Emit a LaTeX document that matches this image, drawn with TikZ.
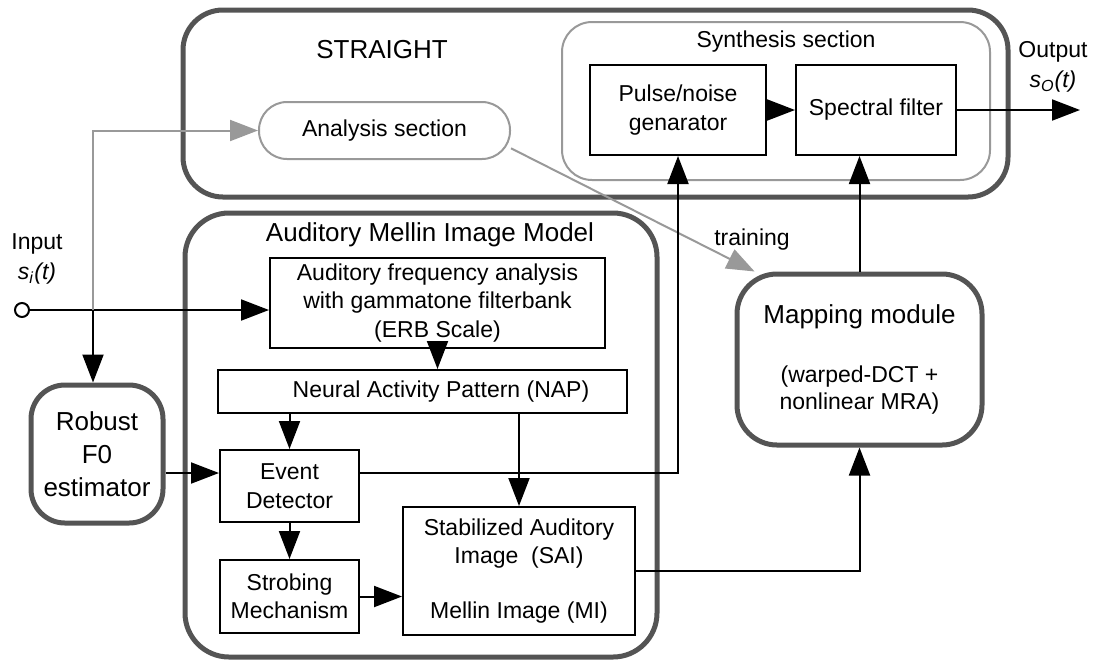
\documentclass[tikz,border=0pt]{standalone}
\usepackage{fontspec}
\setmainfont{Liberation Sans}
\usetikzlibrary{arrows.meta}

\tikzset{
  sz/.style 2 args={minimum width=#1,minimum height=#2},
  blk/.style={draw,line width=1pt,align=center,inner sep=0pt,font=\fontsize{11.5}{14.2}\selectfont},
  grp/.style={draw=black!67,line width=2.5pt,rounded corners=#1,inner sep=0pt},
  thin grp/.style={draw=black!40,line width=1pt,rounded corners=#1,inner sep=0pt},
  txt/.style={align=center,inner sep=0pt,font=\fontsize{11.5}{15}\selectfont},
  big/.style={align=center,inner sep=0pt,font=\fontsize{13}{16.3}\selectfont},
  arr/.style={line width=1pt,-{Triangle[length=14pt,width=10.5pt]}},
  garr/.style={draw=black!40,line width=1pt,-{Triangle[length=14pt,width=10.5pt]}},
}

\begin{document}
\begin{tikzpicture}[x=0.5pt,y=-0.5pt]
  \useasboundingbox (0,0) rectangle (1095,660);

  % STRAIGHT
  \node[grp=20pt,sz={412.5pt}{93.5pt}] (straight) at (595.5,103.5) {};
  \node[big] (straightlbl) at (382,50) {STRAIGHT};
  \node[thin grp=15pt,sz={214pt}{79pt}] (synth) at (776,101) {};
  \node[txt] (synthlbl) at (786,42) {Synthesis section};
  \node[blk,sz={88pt}{45pt}] (pulse) at (678,110) {Pulse/noise\\genarator};
  \node[blk,sz={80pt}{45pt}] (spec) at (876,110) {Spectral filter};
  \node[thin grp=14pt,txt,sz={125.5pt}{28.5pt}] (anal) at (384.5,130.5) {Analysis section};

  \coordinate (out) at (1080,110);
  \node[txt] (outlbl) at (1053,67) {Output\\\textit{s}\textsubscript{\textit{O}}\textit{(t)}};

  % input
  \node[draw,circle,line width=1pt,minimum size=7pt,inner sep=0pt] (inp) at (22,310) {};
  \node[txt] (inlbl) at (37,259) {Input\\\textit{s}\textsubscript{\textit{i}}\textit{(t)}};
  \coordinate (split) at (93,310);

  % AIM
  \node[grp=22pt,sz={236pt}{222pt}] (aim) at (421,435) {};
  \node[big] (aimlbl) at (430,235) {Auditory Mellin Image Model};
  \node[blk,sz={167.5pt}{45pt}] (freq) at (437.5,303) {Auditory frequency analysis\\with gammatone filterbank\\(ERB Scale)};
  \node[blk,sz={204.5pt}{21.5pt}] (nap) at (422.5,391.5) {\hspace{18.5pt}Neural Activity Pattern (NAP)};
  \node[blk,sz={69.5pt}{36pt}] (evt) at (289.5,486) {Event\\Detector};
  \node[blk,sz={69.5pt}{36.5pt}] (strobe) at (289.5,596.5) {Strobing\\Mechanism};
  \node[blk,sz={116pt}{64pt}] (sai) at (519,571) {Stabilized Auditory\\Image~~(SAI)\\[13.5pt]Mellin Image (MI)};

  \node[grp=17pt,big,font=\fontsize{13}{16.5}\selectfont,sz={66pt}{69pt}] (robust) at (97,454) {Robust\\F0\\estimator};

  \node[grp=20pt,txt,font=\fontsize{11.5}{13.5}\selectfont,sz={122.5pt}{85.5pt}] (mapping) at (859.5,359.5)
    {{\fontsize{13}{15}\selectfont Mapping module}\\[16pt](warped-DCT +\\nonlinear MRA)};
  \node[txt] (trainlbl) at (752,240) {training};

  \coordinate (lvl) at (0,473);

  \draw[arr] (inp) -- (inp -| freq.west);
  \draw[arr] (split) -- (split |- robust.north);
  \draw[garr] (split) |- (anal.west);
  \draw[garr] (anal.-8) -- (mapping.140);
  \draw[arr] (pulse) -- (spec);
  \draw[arr] (spec) -- (out);
  \draw[arr] (mapping) -- (mapping |- spec.south);
  \draw[arr] (freq.south) -- (freq.south |- nap.north);
  \draw[arr] (nap.south -| evt.north) -- (evt.north);
  \draw[arr] (nap.south -| sai.north) -- (sai.north);
  \draw[arr] (robust.east |- lvl) -- (evt.west |- lvl);
  \draw[arr] (evt.east |- lvl) -| (pulse.south);
  \draw[arr] (evt) -- (strobe);
  \draw[arr] (strobe) -- (strobe -| sai.west);
  \draw[arr] (sai) -| (mapping);
\end{tikzpicture}
\end{document}
